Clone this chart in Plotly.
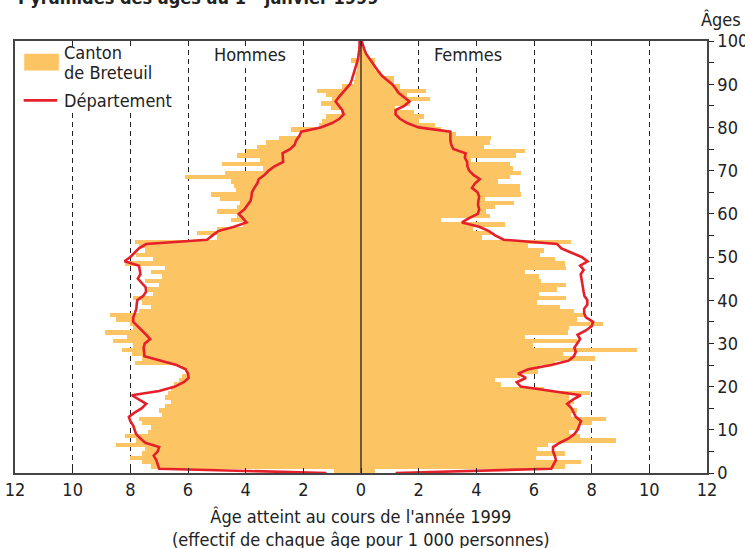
import plotly.graph_objects as go

# ---------------- data ----------------
ages = list(range(0, 100))           # bar ages (each bar spans [age, age+1])
line_ages = list(range(0, 101))      # ages of the Département line points

hommes_canton = [
    0.95, 7.3, 7.6, 8.0, 7.6, 7.5, 8.5, 7.8, 8.2, 7.4,
    7.3, 7.6, 7.7, 6.9, 7.0, 6.8, 6.6, 6.8, 6.7, 6.6,
    6.5, 6.3, 6.2, 6.0, 6.2, 7.83, 7.6, 7.95, 8.3, 7.9,
    8.6, 8.1, 8.87, 7.9, 8.0, 8.5, 8.7, 7.7, 7.3, 7.6,
    7.9, 7.2, 7.4, 7.0, 7.5, 6.9, 7.3, 6.8, 8.2, 7.2,
    7.8, 7.5, 7.7, 7.83, 5.0, 5.68, 5.0, 4.1, 4.5, 4.3,
    5.0, 4.3, 4.2, 4.9, 5.19, 4.35, 4.4, 4.5, 6.1, 4.7,
    3.4, 4.82, 3.5, 4.3, 4.0, 3.6, 3.3, 2.85, 2.04, 2.44,
    1.45, 1.35, 1.2, 0.7, 1.05, 1.4, 1.0, 1.23, 1.52, 0.67,
    0.25, 0.2, 0.18, 0.15, 0.2, 0.36, 0.05, 0.03, 0.0, 0.0,
]

femmes_canton = [
    0.5, 7.09, 7.62, 6.06, 7.09, 6.1, 6.5, 8.86, 7.6, 7.2,
    7.6, 8.0, 8.5, 7.3, 7.5, 7.3, 7.4, 7.2, 7.94, 6.34,
    4.85, 4.64, 5.5, 6.14, 6.2, 6.72, 8.13, 7.0, 9.56, 5.97,
    7.5, 5.68, 7.18, 7.2, 8.4, 7.5, 7.76, 7.4, 6.9, 6.09,
    7.1, 6.17, 6.81, 7.1, 6.23, 6.17, 5.68, 7.1, 7.09, 6.72,
    6.2, 6.34, 5.8, 7.28, 4.2, 4.5, 3.9, 5.0, 2.76, 4.46,
    4.35, 4.64, 5.31, 4.3, 5.56, 5.5, 5.5, 4.75, 5.18, 5.56,
    5.28, 5.18, 3.8, 5.39, 5.68, 4.27, 4.46, 4.52, 3.31, 2.76,
    2.55, 2.0, 2.17, 1.84, 1.17, 1.7, 2.38, 1.6, 2.27, 1.35,
    1.15, 1.15, 0.7, 0.5, 0.45, 0.5, 0.2, 0.15, 0.1, 0.05,
]

hommes_dept = [
    1.2, 7.0, 7.05, 7.1, 7.19, 7.05, 7.0, 7.48, 7.65, 7.8,
    7.85, 7.9, 8.0, 8.05, 7.85, 7.6, 7.45, 7.7, 7.95, 7.0,
    6.45, 6.15, 5.98, 6.0, 6.08, 6.4, 6.95, 7.51, 7.52, 7.54,
    7.5, 7.31, 7.45, 7.6, 7.72, 7.9, 7.9, 7.85, 7.79, 7.78,
    7.76, 7.55, 7.45, 7.47, 7.6, 7.74, 7.65, 7.68, 7.7, 8.2,
    8.0, 7.85, 7.7, 7.45, 5.34, 5.15, 4.95, 4.4, 3.97, 4.1,
    4.24, 4.05, 3.95, 3.83, 3.8, 3.78, 3.7, 3.6, 3.55, 3.35,
    3.2, 3.0, 2.7, 2.7, 2.72, 2.45, 2.3, 2.25, 2.14, 2.07,
    1.4, 1.0, 0.75, 0.6, 0.65, 0.77, 0.88, 0.77, 0.65, 0.5,
    0.38, 0.32, 0.27, 0.22, 0.18, 0.14, 0.1, 0.07, 0.06, 0.05,
    0.05,
]

femmes_dept = [
    1.2, 6.6, 6.68, 6.76, 6.72, 6.66, 6.66, 6.9, 7.2, 7.4,
    7.51, 7.57, 7.63, 7.45, 7.36, 7.3, 7.15, 7.35, 7.62, 6.6,
    5.54, 5.4, 5.72, 5.45, 5.8, 6.6, 7.2, 7.38, 7.45, 7.4,
    7.5, 7.6, 7.51, 7.8, 8.0, 8.05, 7.8, 7.74, 7.74, 7.85,
    7.85, 7.75, 7.72, 7.7, 7.68, 7.65, 7.62, 7.72, 7.6, 7.86,
    7.65, 7.3, 6.95, 6.8, 4.95, 4.65, 4.44, 4.1, 3.5, 3.75,
    4.05, 4.1, 4.06, 4.07, 4.1, 4.04, 3.85, 3.95, 4.12, 3.9,
    3.75, 3.69, 3.68, 3.6, 3.63, 3.2, 3.13, 3.1, 3.1, 3.1,
    2.0, 1.6, 1.35, 1.2, 1.2, 1.5, 1.68, 1.5, 1.3, 1.2,
    1.08, 0.9, 0.72, 0.6, 0.5, 0.38, 0.27, 0.18, 0.12, 0.07,
    0.02,
]

x_tick_values = [-12, -10, -8, -6, -4, -2, 0, 2, 4, 6, 8, 10, 12]
x_tick_labels = ["12", "10", "8", "6", "4", "2", "0", "2", "4", "6", "8", "10", "12"]
y_tick_values = list(range(0, 101, 5))
y_tick_labels = [str(v) if v % 10 == 0 else "" for v in y_tick_values]

# ---------------- style ----------------
FONT = "DejaVu Sans Condensed, Liberation Sans Narrow, sans-serif"
ORANGE = "#FCC462"
RED = "#E5202A"
INK = "#222222"

fig = go.Figure()

fig.add_trace(go.Bar(
    y=ages, x=[-v for v in hommes_canton], orientation="h",
    width=1, offset=0, marker=dict(color=ORANGE, line=dict(width=0)),
    showlegend=False, hoverinfo="skip"))
fig.add_trace(go.Bar(
    y=ages, x=femmes_canton, orientation="h",
    width=1, offset=0, marker=dict(color=ORANGE, line=dict(width=0)),
    showlegend=False, hoverinfo="skip"))
fig.add_trace(go.Scatter(
    y=line_ages, x=[-v for v in hommes_dept], mode="lines",
    line=dict(color=RED, width=2.6), showlegend=False, hoverinfo="skip"))
fig.add_trace(go.Scatter(
    y=line_ages, x=femmes_dept, mode="lines",
    line=dict(color=RED, width=2.6), showlegend=False, hoverinfo="skip"))

fig.update_layout(
    width=745, height=548,
    margin=dict(l=15, r=38, t=41, b=75, autoexpand=False),
    paper_bgcolor="white", plot_bgcolor="white",
    barmode="overlay", bargap=0,
    font=dict(family=FONT, size=18, color=INK),
)

fig.update_xaxes(
    range=[-12, 12], tickvals=x_tick_values, ticktext=x_tick_labels,
    ticks="inside", ticklen=5, tickcolor=INK, tickwidth=1,
    showline=True, linecolor="#444444", linewidth=1.5, mirror="ticks",
    showgrid=True, gridcolor=INK, gridwidth=1.2, griddash="5px,4px",
    zeroline=False, tickfont=dict(size=18, family=FONT), automargin=False,
)
fig.update_yaxes(
    range=[0, 100], side="right", tickvals=y_tick_values, ticktext=y_tick_labels,
    ticks="outside", ticklen=5, tickcolor=INK, tickwidth=1,
    showline=True, linecolor="#444444", linewidth=1.5, mirror=True,
    showgrid=False, zeroline=False, tickfont=dict(size=18, family=FONT), automargin=False,
)

# white areas behind legend and side labels (hide dashed gridlines there)
fig.add_shape(type="rect", xref="x", yref="y", x0=-11.97, x1=-6.3, y0=83.4, y1=99.9,
              fillcolor="white", line=dict(width=0), layer="between")
fig.add_shape(type="rect", xref="x", yref="y", x0=-4.3, x1=-3.7, y0=93.7, y1=99.9,
              fillcolor="white", line=dict(width=0), layer="between")
fig.add_shape(type="rect", xref="x", yref="y", x0=3.7, x1=4.3, y0=94.3, y1=99.9,
              fillcolor="white", line=dict(width=0), layer="between")
# centre axis
fig.add_shape(type="line", xref="x", yref="y", x0=0, x1=0, y0=0, y1=100,
              line=dict(color=INK, width=1.3), layer="above")
# legend symbols
fig.add_shape(type="rect", xref="x", yref="y", x0=-11.68, x1=-10.48, y0=93.2, y1=97.06,
              fillcolor=ORANGE, line=dict(width=0), layer="above")
fig.add_shape(type="line", xref="x", yref="y", x0=-11.7, x1=-10.54, y0=86.25, y1=86.25,
              line=dict(color=RED, width=2.6), layer="above")

ann = [
    dict(text="Canton", x=-10.35, y=97.4, xanchor="left"),
    dict(text="de Breteuil", x=-10.35, y=92.6, xanchor="left"),
    dict(text="Département", x=-10.35, y=86.3, xanchor="left"),
    dict(text="Hommes", x=-3.85, y=96.8, xanchor="center"),
    dict(text="Femmes", x=3.72, y=96.8, xanchor="center"),
]
for a in ann:
    fig.add_annotation(xref="x", yref="y", showarrow=False, yanchor="middle",
                       font=dict(family=FONT, size=18, color=INK), borderpad=0, **a)

fig.add_annotation(xref="paper", yref="paper", x=1.02, y=1.049, text="Âges",
                   showarrow=False, xanchor="center", yanchor="middle",
                   font=dict(family=FONT, size=18, color=INK))
fig.add_annotation(xref="paper", yref="paper", x=0.5, y=-0.128,
                   text="Âge atteint au cours de l'année 1999<br>(effectif de chaque âge pour 1 000 personnes)",
                   showarrow=False, xanchor="center", yanchor="middle",
                   font=dict(family=FONT, size=18, color=INK))
fig.add_annotation(xref="paper", yref="paper", x=0.002, y=1.072,
                   text="<b>Pyramides des âges au 1<sup>er</sup> janvier 1999</b>",
                   showarrow=False, xanchor="left", yanchor="bottom",
                   font=dict(family=FONT, size=18, color=INK))

fig.write_html("out.html",
               config={"displayModeBar": False},
               post_script="document.body.style.margin='0';document.body.style.overflow='hidden';")
